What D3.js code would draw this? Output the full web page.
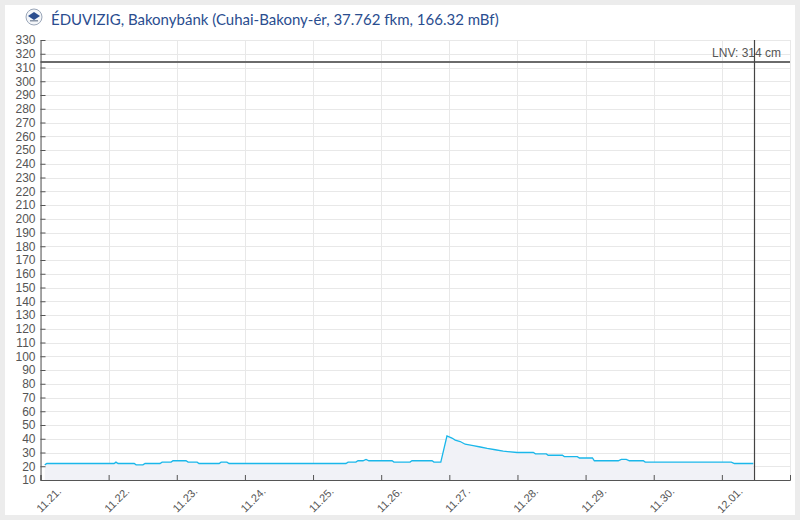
<!DOCTYPE html>
<html><head><meta charset="utf-8">
<script src="https://cdn.jsdelivr.net/npm/d3@7"></script>
<style>
html,body{margin:0;padding:0;background:#ececec;}
svg{display:block;font-family:"Liberation Sans", Arial, sans-serif;}
</style></head>
<body>
<svg id="chart" width="800" height="520"></svg>
<script>
const titleText = "ÉDUVIZIG, Bakonybánk (Cuhai-Bakony-ér, 37.762 fkm, 166.32 mBf)";
const lnvValue = 314;
const lnvLabel = "LNV: 314 cm";
const nowTime = "2024-12-01T11:10";
const xStart = "2024-11-21T00:00";
const xEnd = "2024-12-02T00:00";
const yMin = 10, yMax = 330;
const times = [
 "2024-11-21T01:30","2024-11-21T02:15","2024-11-22T01:55","2024-11-22T02:35","2024-11-22T03:20",
 "2024-11-22T09:00","2024-11-22T09:40","2024-11-22T12:05","2024-11-22T12:50","2024-11-22T18:05",
 "2024-11-22T18:50","2024-11-22T22:00","2024-11-22T22:40","2024-11-23T03:15","2024-11-23T04:00",
 "2024-11-23T07:10","2024-11-23T07:50","2024-11-23T14:55","2024-11-23T15:35","2024-11-23T17:40",
 "2024-11-23T18:25","2024-11-25T11:35","2024-11-25T12:20","2024-11-25T15:05","2024-11-25T15:50",
 "2024-11-25T17:35","2024-11-25T18:40","2024-11-25T19:40","2024-11-26T03:50","2024-11-26T04:30",
 "2024-11-26T10:10","2024-11-26T10:50","2024-11-26T17:55","2024-11-26T18:35","2024-11-26T21:00",
 "2024-11-26T23:10","2024-11-27T00:55","2024-11-27T02:05","2024-11-27T03:50","2024-11-27T05:35",
 "2024-11-27T08:25","2024-11-27T10:55","2024-11-27T13:20","2024-11-27T16:10","2024-11-27T19:00",
 "2024-11-27T23:55","2024-11-28T05:35","2024-11-28T06:20","2024-11-28T10:10","2024-11-28T10:50",
 "2024-11-28T15:50","2024-11-28T16:30","2024-11-28T21:05","2024-11-28T21:50","2024-11-29T02:25",
 "2024-11-29T03:05","2024-11-29T11:30","2024-11-29T12:35","2024-11-29T14:20","2024-11-29T15:25",
 "2024-11-29T20:20","2024-11-29T21:00","2024-12-01T03:20","2024-12-01T04:25","2024-12-01T11:05"
];
const levels = [
 21,22,22,23,22,
 22,21,21,22,22,
 23,23,24,24,23,
 23,22,22,23,23,
 22,22,23,23,24,
 24,25,24,24,23,
 23,24,24,23,23,
 42,40.5,39,38,36,
 35,34,33,32,31,
 30,30,29,29,28,
 28,27,27,26,26,
 24,24,25,25,24,
 24,23,23,22,22
];
const yTicks = d3.range(10, 331, 10);

const parse = d3.timeParse("%Y-%m-%dT%H:%M");
const data = times.map((t,i)=>({t:parse(t), v:levels[i]}));

const svg = d3.select("#chart");
const m = {left:40.5, right:790, top:40, bottom:480};

svg.append("rect").attr("x",5).attr("y",5).attr("width",790).attr("height",510).attr("fill","#ffffff");

const x = d3.scaleTime().domain([parse(xStart), parse(xEnd)]).range([m.left, m.right]);
const y = d3.scaleLinear().domain([yMin, yMax]).range([m.bottom, m.top]);
const days = d3.timeDay.range(parse(xStart), d3.timeDay.offset(parse(xEnd),1));

// grid
const g = svg.append("g");
g.selectAll(".hg").data(yTicks).join("line")
  .attr("x1",m.left).attr("x2",m.right).attr("y1",d=>Math.round(y(d))+0.5).attr("y2",d=>Math.round(y(d))+0.5)
  .attr("stroke","#e8e8e8").attr("stroke-width",1);
g.selectAll(".vg").data(days).join("line")
  .attr("x1",d=>Math.round(x(d))+0.5).attr("x2",d=>Math.round(x(d))+0.5).attr("y1",m.top).attr("y2",m.bottom)
  .attr("stroke","#e8e8e8").attr("stroke-width",1);

// area + line
const area = d3.area().x(d=>x(d.t)).y0(y(yMin)).y1(d=>y(d.v));
svg.append("path").datum(data).attr("d",area).attr("fill","#f1f2f7");
const line = d3.line().x(d=>x(d.t)).y(d=>y(d.v));
svg.append("path").datum(data).attr("d",line).attr("fill","none").attr("stroke","#1ab7ea").attr("stroke-width",1.3);

// LNV line
svg.append("line").attr("x1",m.left).attr("x2",m.right).attr("y1",y(lnvValue)).attr("y2",y(lnvValue))
  .attr("stroke","#6b6b6b").attr("stroke-width",2);
svg.append("text").attr("x",781).attr("y",y(lnvValue)-5).attr("text-anchor","end")
  .attr("font-size",12).attr("fill","#555").text(lnvLabel);

// now line
svg.append("line").attr("x1",Math.round(x(parse(nowTime)))+0.5).attr("x2",Math.round(x(parse(nowTime)))+0.5)
  .attr("y1",m.top).attr("y2",m.bottom).attr("stroke","#444").attr("stroke-width",1.2);

// y axis
const ya = svg.append("g").attr("transform",`translate(${m.left},0)`)
  .call(d3.axisRight(y).tickValues(yTicks).tickSize(5).tickSizeOuter(0).tickFormat(d3.format("d")));
ya.select(".domain").attr("stroke","#555");
ya.selectAll(".tick line").attr("stroke","#555");
ya.selectAll(".tick text").attr("x",-5).attr("text-anchor","end").attr("font-size",12)
  .attr("font-family","'Liberation Sans', Arial, sans-serif").attr("fill","#555");

// x axis
const xa = svg.append("g").attr("transform",`translate(0,${m.bottom})`)
  .call(d3.axisTop(x).tickValues(days).tickSize(5).tickSizeOuter(5).tickFormat(d3.timeFormat("%m.%d.")));
xa.select(".domain").attr("stroke","#555");
xa.selectAll(".tick line").attr("stroke","#555");
xa.selectAll(".tick text").attr("font-size",11).attr("font-family","'Liberation Sans', Arial, sans-serif").attr("fill","#555")
  .attr("text-anchor","end").attr("x",0).attr("y",0).attr("dy",0)
  .attr("transform","translate(21,12) rotate(-45)");
xa.selectAll(".tick").filter(d=>+d===+parse(xEnd)).select("text").remove();

// title + logo
const logo = svg.append("g").attr("transform","translate(34,17)");
logo.append("circle").attr("r",8).attr("fill","#f4f6f9").attr("stroke","#9aa6b8").attr("stroke-width",1);
logo.append("path").attr("d","M-6,-1 L0,-5 L6,-1 L0,3 Z").attr("fill","#2a4d8f");
logo.append("rect").attr("x",-4).attr("y",3).attr("width",8).attr("height",1.5).attr("fill","#8a96a8");
svg.append("text").attr("x",51).attr("y",25).attr("font-size",15).attr("fill","#2a4d8f")
  .attr("font-family","Lato, sans-serif").text(titleText);
</script>
</body></html>
